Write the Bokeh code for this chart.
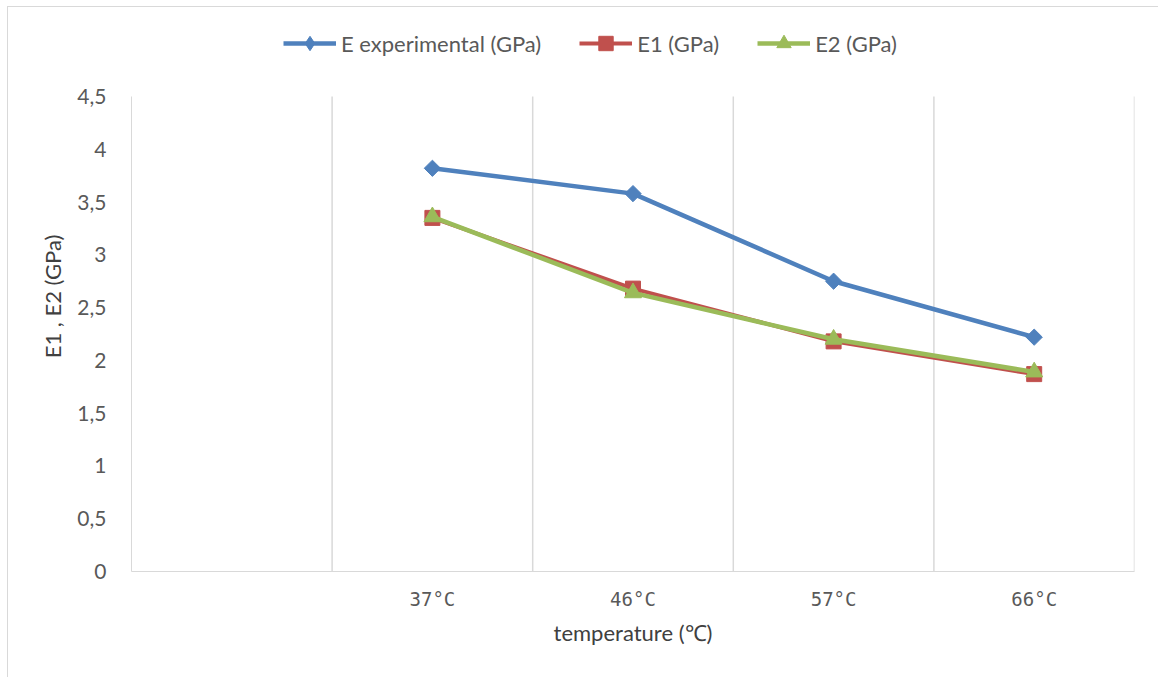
import math
from bokeh.plotting import figure
from bokeh.models import FixedTicker, Legend, LegendItem, Range1d
from bokeh.embed import file_html
from bokeh.resources import INLINE

categories = ["", "37°C", "46°C", "57°C", "66°C"]
e_experimental = [None, 3.82, 3.58, 2.75, 2.22]
e1 = [None, 3.35, 2.68, 2.18, 1.87]
e2 = [None, 3.36, 2.64, 2.20, 1.89]
y_ticks = [0, 0.5, 1, 1.5, 2, 2.5, 3, 3.5, 4, 4.5]

FONT = "Lato"
GREY = "#595959"
GRID = "#d9d9d9"

W, H = 1151, 671
# frame extends above the value axis so the legend can sit inside it
FRAME_TOP_PX, AXIS_TOP_PX, AXIS_BOTTOM_PX = 20, 95, 570
y_max = y_ticks[-1]
y_end = y_max * (AXIS_BOTTOM_PX - FRAME_TOP_PX) / (AXIS_BOTTOM_PX - AXIS_TOP_PX)

p = figure(width=W, height=H, output_backend="svg", toolbar_location=None,
           x_range=Range1d(0, len(categories)), y_range=Range1d(0, y_end),
           min_border_left=123, min_border_right=25, min_border_top=FRAME_TOP_PX - 6,
           min_border_bottom=107)
p.margin = (6, 0, 0, 7)
p.styles = {"border-top": "1px solid #d9d9d9", "border-left": "1px solid #d9d9d9"}
p.outline_line_color = None
p.background_fill_color = "white"
p.border_fill_color = "white"

# vertical gridlines between categories
gx = list(range(1, len(categories) + 1))
p.segment(x0=gx, y0=[0] * len(gx), x1=gx, y1=[y_max] * len(gx),
          line_color=GRID, line_width=1.5)

def pts(vals):
    xs, ys = [], []
    for i, v in enumerate(vals):
        if v is not None:
            xs.append(i + 0.5)
            ys.append(v)
    return xs, ys

series = [
    ("E experimental (GPa)", e_experimental, "#4f81bd", "square", 11.5, math.pi / 4, 4.5),
    ("E1 (GPa)", e1, "#c0504d", "square", 15, 0, 4.0),
    ("E2 (GPa)", e2, "#9bbb59", "triangle", 17, 0, 4.5),
]
items = []
for name, vals, color, marker, size, ang, lw in series:
    xs, ys = pts(vals)
    r1 = p.line(xs, ys, line_color=color, line_width=lw)
    if ang:
        # small diamond hidden under the rotated square: gives the legend its diamond
        r_leg = p.scatter(xs, ys, marker="diamond", size=size * 0.9,
                          fill_color=color, line_color=color)
    r2 = p.scatter(xs, ys, marker=marker, size=size, angle=ang,
                   fill_color=color, line_color=color)
    items.append(LegendItem(label=name, renderers=[r1, r_leg if ang else r2]))

legend = Legend(items=items, orientation="horizontal", location=(152, 510),
                border_line_color=None, background_fill_alpha=0,
                padding=0, margin=0, spacing=38, label_standoff=5,
                glyph_width=53, glyph_height=36, label_height=36,
                label_text_font=FONT, label_text_font_size="22px",
                label_text_color=GREY)
p.add_layout(legend, "center")

# x axis
p.xaxis.ticker = FixedTicker(ticks=[i + 0.5 for i in range(len(categories))])
p.xaxis.major_label_overrides = {i + 0.5: c for i, c in enumerate(categories)}
p.xaxis.axis_line_color = GRID
p.xaxis.major_tick_line_color = None
p.xaxis.minor_tick_line_color = None
p.xaxis.major_label_standoff = 10
p.xaxis.major_label_text_font = "DejaVu Sans Mono"
p.xaxis.major_label_text_font_size = "19px"
p.xaxis.major_label_text_color = GREY
p.xaxis.axis_label = "temperature (℃)"
p.xaxis.axis_label_text_font = FONT
p.xaxis.axis_label_text_font_style = "normal"
p.xaxis.axis_label_text_font_size = "22px"
p.xaxis.axis_label_text_color = "#404040"
p.xaxis.axis_label_standoff = 6

# y axis
p.yaxis.ticker = FixedTicker(ticks=y_ticks)
p.yaxis.bounds = (0, y_max)
p.yaxis.major_label_overrides = {t: (str(t).replace(".", ",") if t != int(t) else str(int(t))) for t in y_ticks}
p.yaxis.axis_line_color = GRID
p.yaxis.major_tick_line_color = None
p.yaxis.minor_tick_line_color = None
p.yaxis.major_label_standoff = 19
p.yaxis.major_label_text_font = FONT
p.yaxis.major_label_text_font_size = "21px"
p.yaxis.major_label_text_color = GREY
p.yaxis.axis_label = "E1 , E2 (GPa)"
p.yaxis.axis_label_text_font = FONT
p.yaxis.axis_label_text_font_style = "normal"
p.yaxis.axis_label_text_font_size = "22px"
p.yaxis.axis_label_text_color = "#404040"
p.yaxis.axis_label_standoff = 8

p.xgrid.grid_line_color = None
p.ygrid.grid_line_color = None

open("out.html", "w").write(file_html(p, INLINE))
